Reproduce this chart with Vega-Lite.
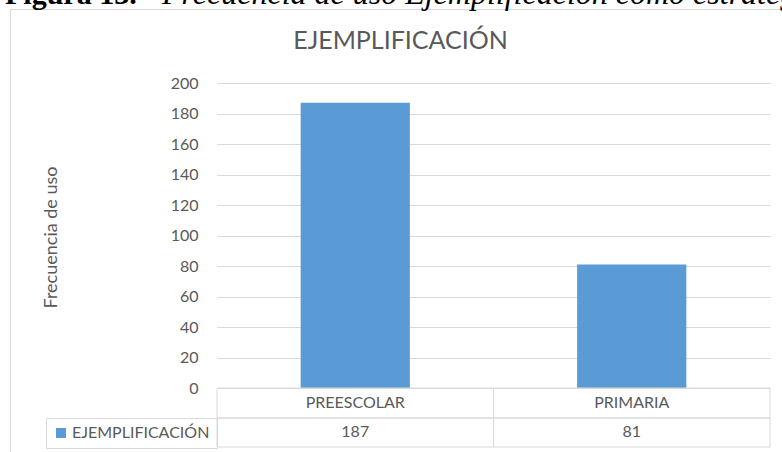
{
  "$schema": "https://vega.github.io/schema/vega-lite/v6.json",
  "width": 780,
  "height": 460,
  "autosize": {"type": "none"},
  "padding": {"left": 10, "top": 9, "right": 0, "bottom": 0},
  "background": "white",
  "config": {"view": {"stroke": "#D9D9D9", "strokeWidth": 1}, "font": "Lato"},
  "datasets": {
    "bars": [
      {"nivel": "PREESCOLAR", "frecuencia": 187, "serie": "EJEMPLIFICACIÓN"},
      {"nivel": "PRIMARIA", "frecuencia": 81, "serie": "EJEMPLIFICACIÓN"}
    ],
    "caption": [
      {"titulo": "EJEMPLIFICACIÓN", "negrita": "Figura 13.", "cursiva": "Frecuencia de uso Ejemplificación como estrategia"}
    ]
  },
  "layer": [
    {
      "data": {"name": "bars"},
      "mark": {"type": "bar", "width": {"band": 0.395}},
      "encoding": {
        "x": {
          "field": "nivel",
          "type": "nominal",
          "scale": {"domain": ["PREESCOLAR", "PRIMARIA"], "range": [207, 760], "paddingInner": 0, "paddingOuter": 0},
          "axis": null
        },
        "y": {
          "field": "frecuencia",
          "type": "quantitative",
          "scale": {"domain": [0, 200], "range": [379, 74], "nice": false},
          "axis": {
            "title": "Frecuencia de uso",
            "offset": -207,
            "values": [0, 20, 40, 60, 80, 100, 120, 140, 160, 180, 200],
            "domain": false,
            "ticks": false,
            "labelPadding": 19,
            "labelFont": "Lato",
            "labelFontSize": 16,
            "labelColor": "#595959",
            "grid": true,
            "gridColor": "#D9D9D9",
            "gridWidth": 1,
            "titleFont": "Lato",
            "titleFontSize": 18,
            "titleFontWeight": "normal",
            "titleColor": "#595959",
            "titleX": -166,
            "titleY": 228,
            "titleAngle": 270,
            "titleAlign": "center",
            "titleBaseline": "middle"
          }
        },
        "color": {
          "field": "serie",
          "type": "nominal",
          "scale": {"range": ["#5B9BD5"]},
          "legend": {
            "orient": "none",
            "legendX": 36,
            "legendY": 409,
            "title": null,
            "symbolType": "square",
            "symbolSize": 100,
            "symbolStrokeWidth": 0,
            "labelFont": "Lato",
            "labelFontSize": 16,
            "labelColor": "#595959",
            "labelOffset": 3,
            "padding": 7,
            "strokeColor": "#D9D9D9"
          }
        }
      }
    },
    {
      "data": {"name": "bars"},
      "mark": {"type": "rect", "fill": "transparent", "stroke": "#D9D9D9", "strokeWidth": 1},
      "encoding": {
        "x": {"field": "nivel", "type": "nominal"},
        "y": {"datum": 0},
        "y2": {"datum": -19.67}
      }
    },
    {
      "data": {"name": "bars"},
      "mark": {"type": "rect", "fill": "transparent", "stroke": "#D9D9D9", "strokeWidth": 1},
      "encoding": {
        "x": {"field": "nivel", "type": "nominal"},
        "y": {"datum": -19.67},
        "y2": {"datum": -38.69}
      }
    },
    {
      "data": {"name": "bars"},
      "mark": {"type": "text", "font": "Lato", "fontSize": 16, "color": "#595959", "baseline": "middle", "align": "center"},
      "encoding": {
        "x": {"field": "nivel", "type": "nominal"},
        "y": {"datum": -9.8},
        "text": {"field": "nivel"}
      }
    },
    {
      "data": {"name": "bars"},
      "mark": {"type": "text", "font": "Lato", "fontSize": 16, "color": "#595959", "baseline": "middle", "align": "center"},
      "encoding": {
        "x": {"field": "nivel", "type": "nominal"},
        "y": {"datum": -28.9},
        "text": {"field": "frecuencia", "type": "quantitative"}
      }
    },
    {
      "data": {"name": "caption"},
      "mark": {"type": "text", "font": "Lato", "fontSize": 25, "color": "#595959", "baseline": "alphabetic", "align": "center", "dx": -93},
      "encoding": {
        "x": {"datum": "PRIMARIA", "bandPosition": 0},
        "y": {"datum": 222.6},
        "text": {"field": "titulo"}
      }
    },
    {
      "data": {"name": "caption"},
      "mark": {"type": "text", "font": "Liberation Serif", "fontSize": 30, "fontWeight": "bold", "color": "black", "baseline": "alphabetic", "align": "left", "dx": -212},
      "encoding": {
        "x": {"datum": "PREESCOLAR", "bandPosition": 0},
        "y": {"datum": 251.8},
        "text": {"field": "negrita"}
      }
    },
    {
      "data": {"name": "caption"},
      "mark": {"type": "text", "font": "Liberation Serif", "fontSize": 32, "fontStyle": "italic", "color": "black", "baseline": "alphabetic", "align": "left", "dx": -55},
      "encoding": {
        "x": {"datum": "PREESCOLAR", "bandPosition": 0},
        "y": {"datum": 251.8},
        "text": {"field": "cursiva"}
      }
    }
  ]
}
